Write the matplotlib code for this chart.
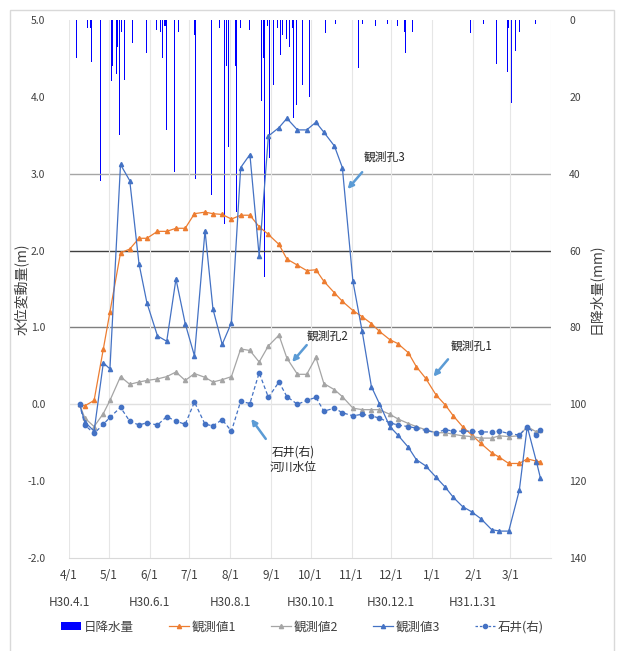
import numpy as np
import pandas as pd
import matplotlib
matplotlib.use("Agg")
import matplotlib.pyplot as plt
from matplotlib.lines import Line2D
from matplotlib.patches import Patch, Rectangle
import matplotlib.ticker as plticker

plt.rcParams['font.family'] = ['Noto Sans CJK JP', 'DejaVu Sans']
plt.rcParams['axes.unicode_minus'] = False

# observation dates (roughly weekly)
obs_dates = pd.to_datetime([
    "2018-04-09", "2018-04-13", "2018-04-20", "2018-04-27", "2018-05-02", "2018-05-10",
    "2018-05-17", "2018-05-24", "2018-05-30", "2018-06-07", "2018-06-14", "2018-06-21",
    "2018-06-28", "2018-07-05", "2018-07-13", "2018-07-19", "2018-07-26", "2018-08-02",
    "2018-08-09", "2018-08-16", "2018-08-23", "2018-08-30", "2018-09-07", "2018-09-13",
    "2018-09-21", "2018-09-28", "2018-10-05", "2018-10-11", "2018-10-19", "2018-10-25",
    "2018-11-02", "2018-11-09", "2018-11-16", "2018-11-22", "2018-11-30", "2018-12-06",
    "2018-12-14", "2018-12-20", "2018-12-27", "2019-01-04", "2019-01-11", "2019-01-17",
    "2019-01-24", "2019-01-31", "2019-02-07", "2019-02-15", "2019-02-21", "2019-02-28",
    "2019-03-08", "2019-03-14", "2019-03-21", "2019-03-24",
])

obs1 = [0.00, -0.02, 0.05, 0.72, 1.20, 1.97, 2.02, 2.16, 2.16, 2.25, 2.25, 2.29,
        2.29, 2.48, 2.50, 2.48, 2.47, 2.41, 2.46, 2.46, 2.31, 2.21, 2.08, 1.89,
        1.81, 1.74, 1.75, 1.60, 1.45, 1.34, 1.22, 1.14, 1.05, 0.95, 0.84, 0.79,
        0.67, 0.49, 0.34, 0.12, -0.01, -0.15, -0.29, -0.40, -0.51, -0.63, -0.69, -0.77,
        -0.77, -0.71, -0.74, -0.75]

obs2 = [0.00, -0.18, -0.29, -0.12, 0.05, 0.36, 0.26, 0.29, 0.31, 0.33, 0.36, 0.42,
        0.31, 0.40, 0.35, 0.29, 0.32, 0.36, 0.72, 0.70, 0.55, 0.76, 0.90, 0.60,
        0.39, 0.39, 0.61, 0.27, 0.19, 0.10, -0.05, -0.07, -0.07, -0.07, -0.13, -0.19,
        -0.25, -0.29, -0.33, -0.37, -0.37, -0.39, -0.41, -0.42, -0.44, -0.44, -0.41, -0.42,
        -0.41, -0.29, -0.36, -0.33]

obs3 = [0.00, -0.23, -0.35, 0.54, 0.46, 3.12, 2.91, 1.83, 1.32, 0.89, 0.82, 1.63,
        1.05, 0.63, 2.26, 1.24, 0.78, 1.06, 3.08, 3.25, 1.93, 3.49, 3.60, 3.72,
        3.57, 3.57, 3.67, 3.54, 3.36, 3.08, 1.60, 0.95, 0.23, 0.01, -0.29, -0.40,
        -0.56, -0.72, -0.80, -0.95, -1.08, -1.21, -1.33, -1.40, -1.49, -1.63, -1.65, -1.65,
        -1.12, -0.29, -0.75, -0.96]

ishii = [0.00, -0.27, -0.38, -0.26, -0.17, -0.04, -0.22, -0.27, -0.24, -0.27, -0.16, -0.22,
         -0.26, 0.03, -0.26, -0.28, -0.20, -0.35, 0.04, 0.01, 0.41, 0.09, 0.29, 0.10,
         0.00, 0.05, 0.09, -0.09, -0.05, -0.11, -0.15, -0.13, -0.15, -0.18, -0.24, -0.27,
         -0.29, -0.31, -0.34, -0.37, -0.33, -0.35, -0.35, -0.35, -0.36, -0.36, -0.35, -0.38,
         -0.40, -0.29, -0.40, -0.33]

# daily rainfall (mm)
rain_dates = pd.to_datetime([
    "2018-04-07", "2018-04-15", "2018-04-17", "2018-04-18", "2018-04-25", "2018-05-02",
    "2018-05-03", "2018-05-04", "2018-05-07", "2018-05-08", "2018-05-09", "2018-05-11",
    "2018-05-13", "2018-05-19", "2018-05-24", "2018-05-30", "2018-06-06", "2018-06-09",
    "2018-06-11", "2018-06-12", "2018-06-13", "2018-06-14", "2018-06-20", "2018-06-23",
    "2018-07-05", "2018-07-06", "2018-07-16", "2018-07-18", "2018-07-24", "2018-07-28",
    "2018-07-29", "2018-07-31", "2018-08-05", "2018-08-06", "2018-08-07", "2018-08-09",
    "2018-08-10", "2018-08-16", "2018-08-25", "2018-08-26", "2018-08-27", "2018-08-29",
    "2018-08-31", "2018-09-01", "2018-09-03", "2018-09-04", "2018-09-06", "2018-09-08",
    "2018-09-10", "2018-09-13", "2018-09-15", "2018-09-17", "2018-09-18", "2018-09-20",
    "2018-09-25", "2018-09-26", "2018-09-30", "2018-10-12", "2018-10-20", "2018-10-24",
    "2018-11-06", "2018-11-09", "2018-11-19", "2018-11-28", "2018-12-06", "2018-12-11",
    "2018-12-12", "2018-12-17", "2019-01-30", "2019-02-09", "2019-02-19", "2019-02-27",
    "2019-02-28", "2019-03-02", "2019-03-05", "2019-03-08", "2019-03-10", "2019-03-20",
])
rain_mm = [10, 2, 2, 11, 42, 8,
           16, 12, 14, 7, 30, 3,
           15.5, 6, 2, 8.5, 2.5, 3,
           10, 1.5, 1.5, 28.5, 39.5, 3,
           4, 41.5, 1.5, 45.5, 2, 53,
           12, 33, 12, 50, 7, 2,
           13, 2.5, 21, 10, 67, 1.5,
           36, 34, 17, 13, 2, 9,
           4, 5, 7, 2, 25.5, 22,
           17, 10, 20, 3.5, 1, 3,
           12.5, 1, 1.5, 1, 1.5, 3,
           8.5, 3, 3.5, 1, 11.5, 13.5,
           2, 21.5, 8, 3, 32.5, 1]

month_ticks = pd.date_range("2018-04-01", "2019-04-01", freq="MS")
month_labels = [f"{d.month}/1" for d in month_ticks[:-1]] + [""]
era_ticks = pd.to_datetime(["2018-04-01", "2018-06-01", "2018-08-01",
                            "2018-10-01", "2018-12-01", "2019-02-01"])
era_labels = ["H30.4.1", "H30.6.1", "H30.8.1", "H30.10.1", "H30.12.1", "H31.1.31"]

c_rain = "#0000FF"
c1, c2, c3 = "#ED7D31", "#A5A5A5", "#4472C4"
c_arrow = "#5B9BD5"

fig = plt.figure(figsize=(6.17, 6.51), dpi=100)
ax = fig.add_axes([69 / 617, 1 - 558 / 651, 482 / 617, 538 / 651])
ax2 = ax.twinx()
ax.set_zorder(ax2.get_zorder() + 1)
ax.patch.set_visible(False)

# rainfall hanging from the top (right axis, inverted)
ax2.bar(rain_dates, rain_mm, width=0.65, color=c_rain, linewidth=0, align="center")
ax2.set_ylim(140, 0)
ax2.set_yticks(range(0, 141, 20))

# water levels
ax.plot(obs_dates, obs1, color=c1, lw=0.9, marker="^", ms=3.0)
ax.plot(obs_dates, obs2, color=c2, lw=0.9, marker="^", ms=3.0)
ax.plot(obs_dates, obs3, color=c3, lw=0.9, marker="^", ms=3.0)
ax.plot(obs_dates, ishii, color=c3, lw=0.9, ls=(0, (3, 2)), marker="o", ms=3.1)

ax.set_xlim(pd.Timestamp("2018-04-01"), pd.Timestamp("2019-04-01"))
ax.set_ylim(-2, 5)
ax.yaxis.set_major_locator(plticker.MultipleLocator(1))
ax.yaxis.set_major_formatter(plticker.FormatStrFormatter("%.1f"))
ax.set_xticks(month_ticks)
ax.set_xticklabels(month_labels)
ax.grid(axis="x", color="#e6e6e6", lw=0.8)

for yv, col in [(3, "#a6a6a6"), (2, "#404040"), (1, "#7f7f7f"), (0, "#e0e0e0")]:
    ax.axhline(yv, color=col, lw=1, zorder=0.5)

for a in (ax, ax2):
    for s in a.spines.values():
        s.set_visible(False)
ax.spines["bottom"].set_visible(True)
ax.spines["bottom"].set_color("#d9d9d9")

ax.tick_params(axis="x", length=0, pad=8, labelsize=8.5, colors="#404040")
ax.tick_params(axis="y", length=0, pad=17, labelsize=7.5, colors="#404040")
ax2.tick_params(axis="y", length=0, pad=13, labelsize=7.5, colors="#404040")

sec = ax.secondary_xaxis("bottom")
sec.set_xticks(era_ticks)
sec.set_xticklabels(era_labels)
sec.tick_params(length=0, pad=27, labelsize=8.5, colors="#404040")
sec.spines["bottom"].set_visible(False)

ax.set_ylabel("水位変動量(m)", fontsize=10, color="#404040")
ax.yaxis.set_label_coords(-0.084, 0.5)
ax2.set_ylabel("日降水量(mm)", fontsize=10, color="#404040", rotation=90)
ax2.yaxis.set_label_coords(1.076, 0.5)

# callouts
notes = [
    ("観測孔3", "2018-11-26", 3.21, "2018-11-09", 3.02, "2018-10-29", 2.80),
    ("観測孔2", "2018-10-14", 0.88, "2018-09-28", 0.77, "2018-09-17", 0.55),
    ("観測孔1", "2019-01-31", 0.75, "2019-01-13", 0.585, "2019-01-02", 0.36),
    ("石井(右)\n河川水位", "2018-09-18", -0.72, "2018-08-28", -0.45, "2018-08-17", -0.19),
]
for txt, tx, ty, ax0, ay0, ax1, ay1 in notes:
    ax.text(pd.Timestamp(tx), ty, txt, ha="center", va="center", fontsize=8.5,
            color="#262626", linespacing=1.3)
    ax.annotate("", xy=(pd.Timestamp(ax1), ay1), xytext=(pd.Timestamp(ax0), ay0),
                arrowprops=dict(arrowstyle="-|>", color=c_arrow, lw=1.8, mutation_scale=8,
                                shrinkA=0, shrinkB=0))

handles = [
    Patch(facecolor=c_rain),
    Line2D([], [], color=c1, lw=0.9, marker="^", ms=3),
    Line2D([], [], color=c2, lw=0.9, marker="^", ms=3),
    Line2D([], [], color=c3, lw=0.9, marker="^", ms=3),
    Line2D([], [], color=c3, lw=0.9, ls=(0, (2, 1.5)), marker="o", ms=3),
]
labels = ["日降水量", "観測値1", "観測値2", "観測値3", "石井(右)"]
fig.legend(handles, labels, ncol=5, loc="center", bbox_to_anchor=(0.49, 1 - 627 / 651),
           frameon=False, fontsize=9, handlelength=1.6, handleheight=0.6,
           handletextpad=0.2, columnspacing=2.8, labelcolor="#404040")

fig.patches.append(Rectangle((10 / 617, -0.05), 604 / 617, 1.05 - 10 / 651,
                             transform=fig.transFigure, fill=False,
                             edgecolor="#d9d9d9", lw=1))

fig.savefig("out.png", dpi=100, facecolor="white")
